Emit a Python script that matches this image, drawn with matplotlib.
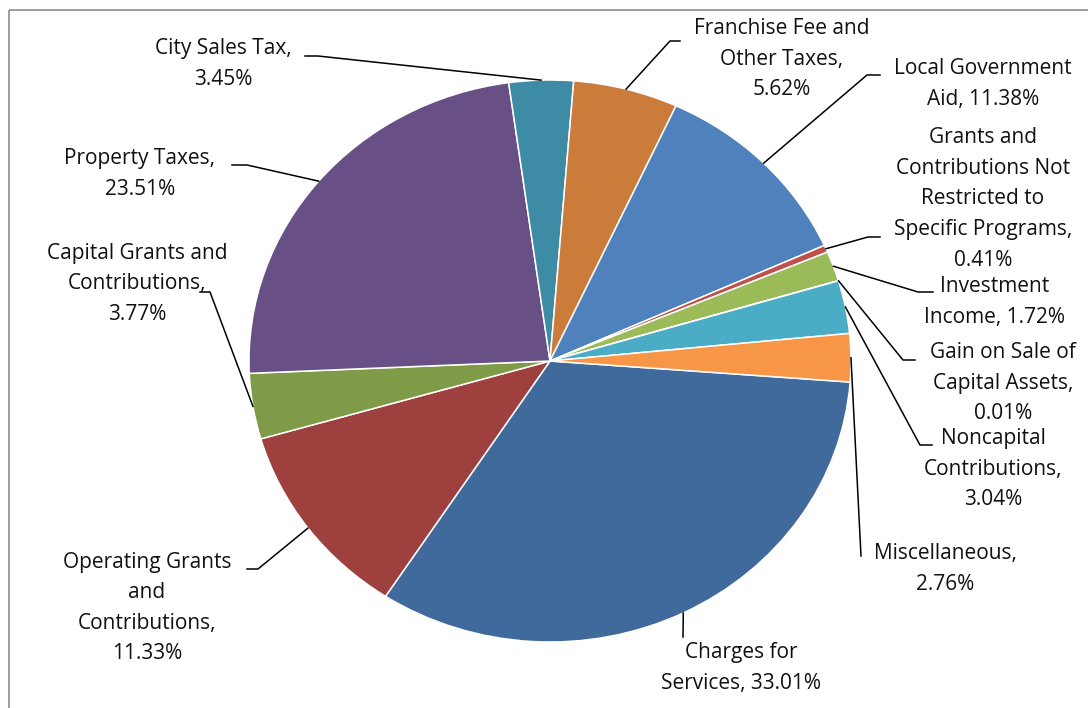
import numpy as np
import matplotlib.pyplot as plt

plt.rcParams['font.family'] = ['Open Sans', 'DejaVu Sans']

# Revenue sources, in drawing order (clockwise from just below 3 o'clock)
categories = [
    "Charges for Services", "Operating Grants and Contributions",
    "Capital Grants and Contributions", "Property Taxes", "City Sales Tax",
    "Franchise Fee and Other Taxes", "Local Government Aid",
    "Grants and Contributions Not Restricted to Specific Programs",
    "Investment Income", "Gain on Sale of Capital Assets",
    "Noncapital Contributions", "Miscellaneous",
]
shares = [33.01, 11.33, 3.77, 23.51, 3.45, 5.62, 11.38, 0.41, 1.72, 0.01, 3.04, 2.76]
colors = ["#416A9C", "#9E413E", "#7F9B48", "#684F86", "#3D8BA4", "#CB7B3A",
          "#4F81BD", "#C0504D", "#9BBB59", "#8064A2", "#4BACC6", "#F79646"]

# wrapped label text, value filled in below
label_fmt = [
    "Charges for\nServices, {}",
    "Operating Grants\nand\nContributions,\n{}",
    "Capital Grants and\nContributions,\n{}",
    "Property Taxes,\n{}",
    "City Sales Tax,\n{}",
    "Franchise Fee and\nOther Taxes,\n{}",
    "Local Government\nAid, {}",
    "Grants and\nContributions Not\nRestricted to\nSpecific Programs,\n{}",
    "Investment\nIncome, {}",
    "Gain on Sale of\nCapital Assets,\n{}",
    "Noncapital\nContributions,\n{}",
    "Miscellaneous,\n{}",
]

# label block centres (pixels, y down)
label_pos = [(741, 668), (147, 608), (137, 284), (140, 174), (223, 64),
             (782, 59), (983, 84), (983, 199), (995, 302), (1003, 383),
             (993, 469), (945, 569)]
# leader start at the text and the elbow before it heads to the slice
leader_pts = [
    [(683, 637), (683, 637)], [(247, 569), (258, 569)], [(200, 292), (210, 292)],
    [(232, 165), (247, 165)], [(305, 56), (318, 56)], [(680, 41), (670, 41)],
    [(880, 75), (867, 75)], [(880, 237), (868, 237)], [(933, 292), (918, 292)],
    [(915, 360), (903, 360)], [(932, 445), (920, 445)], [(861, 556), (861, 556)],
]

W, H = 1088, 708
fig = plt.figure(figsize=(W / 100, H / 100), dpi=100)

# pixel-space overlay for frame, labels and leader lines
ov = fig.add_axes([0, 0, 1, 1], zorder=2)
ov.set_xlim(0, W)
ov.set_ylim(H, 0)
ov.axis('off')
ov.patch.set_alpha(0)

# pie sits in its own (slightly wide) box
cx, cy, rx, ry = 550, 361, 301, 281
pad = 1.03
ax = fig.add_axes([(cx - rx * pad) / W, (H - cy - ry * pad) / H,
                   2 * rx * pad / W, 2 * ry * pad / H], zorder=1)
wedges, _ = ax.pie(shares, colors=colors, startangle=-4.3, counterclock=False,
                   radius=1, wedgeprops=dict(edgecolor='white', linewidth=1.1))
ax.set_xlim(-pad, pad)
ax.set_ylim(-pad, pad)
ax.set_aspect('auto')

# chart frame
ov.plot([8.5, 8.5], [9.5, H], color='#8c8c8c', lw=1.2, solid_capstyle='butt')
ov.plot([8.5, W], [9.5, 9.5], color='#8c8c8c', lw=1.2, solid_capstyle='butt')

to_ov = ov.transData.inverted()
for w, fmt, (tx, ty), (p0, p1), v in zip(wedges, label_fmt, label_pos, leader_pts, shares):
    mid = np.deg2rad((w.theta1 + w.theta2) / 2)
    px, py = to_ov.transform(ax.transData.transform((np.cos(mid), np.sin(mid))))
    ov.plot([p0[0], p1[0], px], [p0[1], p1[1], py], color='black', lw=1.1)
    ov.text(tx, ty, fmt.format(f"{v:.2f}%"), ha='center', va='center',
            multialignment='center', fontsize=15, linespacing=1.6, color='#111111')

fig.savefig('out.png', dpi=100)
